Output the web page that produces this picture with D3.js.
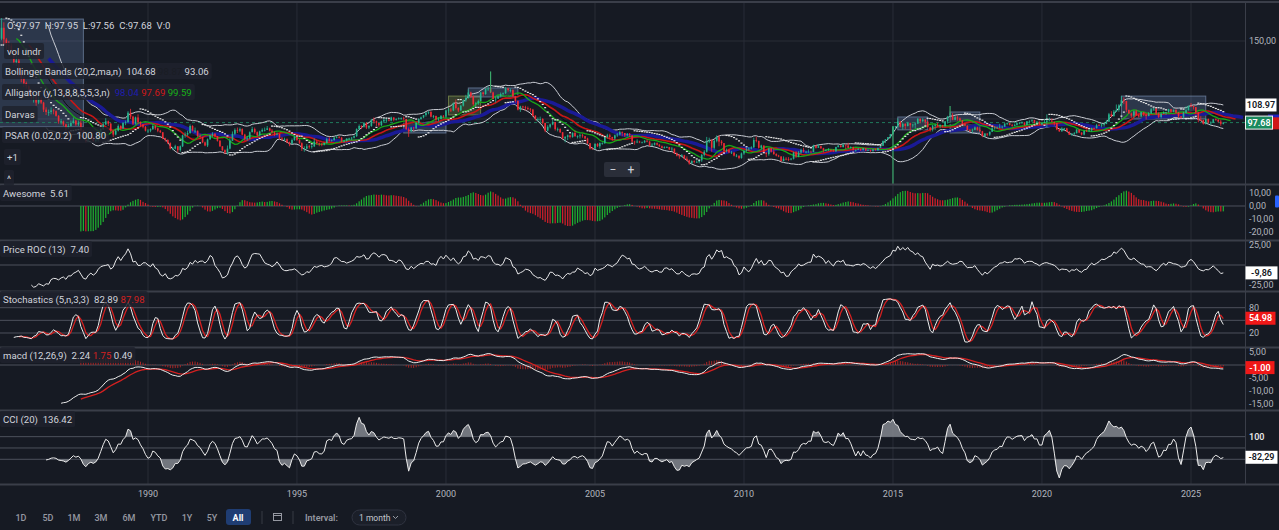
<!DOCTYPE html>
<html><head><meta charset="utf-8">
<script src="https://cdn.jsdelivr.net/npm/d3@7"></script>
<style>
body{margin:0;background:#161a23;overflow:hidden}
svg{display:block}
text{font-family:Roboto,"Noto Sans",sans-serif;white-space:pre}
</style>
</head><body>
<svg id="c" width="1279" height="530"></svg>
<script>
// ---------------- DATA (monthly US dollar index, Jan 1985 .. Feb 2026) ----------------
const firstMonth = [1985, 0];
const firstOpen = 148.5;
const closes = [
/*1985*/151.5,158.5,151.0,147.5,147.0,143.5,136.5,137.5,129.0,126.0,123.0,121.0,
/*1986*/117.5,113.5,114.5,110.5,113.0,110.5,106.0,104.5,104.5,105.5,105.0,102.0,
/*1987*/98.5,98.5,96.5,94.0,95.5,97.5,99.0,96.5,97.5,92.5,88.0,86.5,
/*1988*/89.0,88.5,86.0,86.5,89.0,93.5,96.5,98.5,97.0,92.5,90.0,92.5,
/*1989*/95.5,94.0,97.5,98.0,104.0,101.5,97.0,101.0,98.0,96.5,95.0,92.5,
/*1990*/92.5,93.5,95.5,94.0,92.5,91.5,87.5,86.5,84.5,81.0,81.0,82.5,
/*1991*/80.0,82.5,89.5,90.0,91.0,95.5,92.5,92.5,89.0,88.5,85.0,83.0,
/*1992*/87.0,89.5,90.5,89.0,86.0,82.5,80.0,78.5,81.0,86.0,90.5,93.0,
/*1993*/92.5,93.5,90.0,87.0,87.5,91.5,93.5,91.5,89.5,92.0,93.0,93.0,
/*1994*/94.0,92.5,91.5,90.0,90.5,87.5,87.0,87.0,85.0,84.0,86.5,88.5,
/*1995*/86.5,84.5,81.0,81.0,82.5,82.0,82.5,85.5,84.5,84.0,83.5,84.5,
/*1996*/87.0,86.0,86.5,88.0,88.5,88.0,85.5,86.0,87.5,87.5,88.0,89.0,
/*1997*/93.5,95.5,95.0,97.5,94.5,95.5,99.5,98.5,97.5,96.0,98.5,99.5,
/*1998*/99.5,99.0,101.0,99.5,100.0,100.5,100.5,100.0,93.5,92.0,94.5,94.0,
/*1999*/97.5,100.0,101.0,102.5,104.0,104.5,101.5,102.0,99.5,100.0,102.0,101.5,
/*2000*/105.5,106.0,105.5,110.0,107.0,105.5,108.5,112.0,113.5,117.0,114.5,109.5,
/*2001*/110.0,111.5,117.0,116.0,119.5,119.5,117.0,113.0,113.0,114.5,116.0,116.5,
/*2002*/119.5,118.5,118.5,114.5,111.5,106.0,108.0,107.5,107.0,106.5,106.0,102.0,
/*2003*/100.0,100.0,100.0,97.5,92.5,95.0,96.5,98.0,93.5,93.5,91.5,87.5,
/*2004*/88.5,89.5,88.5,91.0,89.0,89.0,89.5,89.0,87.5,84.5,81.0,80.9,
/*2005*/84.0,82.5,84.5,84.5,88.5,89.5,88.5,87.5,89.5,90.0,91.5,91.0,
/*2006*/89.5,90.5,89.5,85.5,85.0,85.5,85.0,85.0,86.0,85.5,83.0,83.5,
/*2007*/84.5,83.5,82.5,81.5,82.0,82.0,80.5,81.0,78.0,76.5,76.0,76.7,
/*2008*/74.5,73.5,71.5,73.0,72.5,72.5,73.5,77.0,79.0,85.5,86.5,81.5,
/*2009*/86.0,88.5,85.5,84.5,79.5,80.0,78.5,78.5,76.5,76.5,75.0,77.9,
/*2010*/79.5,80.5,81.0,81.8,86.5,86.0,81.5,83.0,78.5,77.5,81.0,79.0,
/*2011*/77.5,76.5,76.0,73.0,74.5,74.3,74.0,74.5,78.5,76.0,78.5,80.2,
/*2012*/79.0,79.0,79.0,78.8,83.0,81.5,82.5,81.2,79.9,80.0,80.2,79.8,
/*2013*/79.2,82.0,83.0,82.0,83.5,83.0,81.5,82.0,80.2,80.2,80.7,80.0,
/*2014*/81.2,79.7,80.1,79.5,80.4,79.8,81.5,82.8,86.0,87.0,88.4,90.3,
/*2015*/94.8,95.3,98.4,95.0,96.9,95.5,97.3,96.0,96.4,97.0,100.2,98.6,
/*2016*/99.6,98.2,94.6,93.1,95.9,96.1,95.5,96.0,95.4,98.5,101.5,102.2,
/*2017*/99.5,101.1,100.4,99.0,97.0,95.6,92.9,92.7,93.1,94.6,93.0,92.1,
/*2018*/89.1,90.6,90.0,91.8,94.0,94.5,94.5,95.1,95.1,97.1,97.3,96.2,
/*2019*/95.6,96.2,97.3,97.5,97.8,96.1,98.5,98.9,99.4,97.4,98.3,96.4,
/*2020*/97.4,98.1,99.0,99.0,98.3,97.4,93.3,92.1,93.9,94.0,91.9,89.9,
/*2021*/90.6,90.9,93.2,91.3,90.0,92.4,92.2,92.6,94.2,94.1,96.0,95.7,
/*2022*/96.5,96.7,98.3,103.0,101.8,104.7,105.8,108.7,112.1,111.5,105.9,103.5,
/*2023*/102.1,104.9,102.5,101.7,104.3,102.9,101.9,103.6,106.2,106.7,103.5,101.3,
/*2024*/103.3,104.2,104.5,106.2,104.6,105.9,104.1,101.7,100.8,104.0,105.7,108.5,
/*2025*/108.37,107.6,104.2,99.5,99.3,96.9,100.0,97.8,97.8,99.8,99.4,98.3,
/*2026*/96.9,97.68];
const highs = [
/*1985*/153.5,164.7,162.0,152.0,150.0,148.5,144.0,140.5,139.5,129.5,127.0,124.0,
/*1986*/122.0,118.5,117.5,115.5,114.5,114.0,111.0,107.5,106.0,107.5,106.5,105.5,
/*1987*/102.5,100.0,99.0,97.0,97.0,99.0,101.0,99.5,99.0,99.0,93.0,88.5,
/*1988*/90.5,90.0,88.5,87.5,89.5,94.0,97.5,100.5,99.0,97.5,92.5,93.5,
/*1989*/96.5,96.0,98.0,99.0,105.0,106.5,102.0,101.5,103.0,98.5,96.5,95.5,
/*1990*/93.5,94.0,96.5,96.0,94.5,93.0,91.5,88.0,87.0,85.0,82.0,83.5,
/*1991*/82.5,83.0,90.0,91.5,92.5,96.5,96.0,94.5,92.5,90.5,88.5,85.5,
/*1992*/87.5,90.0,91.5,91.0,89.0,86.5,82.5,80.5,83.0,88.0,92.0,94.0,
/*1993*/94.5,94.5,94.0,90.5,89.0,92.0,95.0,94.5,92.0,92.5,94.0,94.5,
/*1994*/95.5,94.5,93.5,92.0,91.5,90.5,88.5,88.0,87.5,85.5,87.5,89.0,
/*1995*/89.0,87.0,85.0,82.5,84.0,83.5,83.5,87.5,86.5,85.0,84.5,85.0,
/*1996*/88.0,88.5,87.0,88.5,89.5,89.0,88.5,86.5,87.5,88.0,88.5,89.5,
/*1997*/94.0,96.5,96.0,98.0,98.0,96.0,100.0,101.0,99.0,97.5,99.0,100.5,
/*1998*/100.5,100.5,101.5,101.0,100.5,101.0,101.0,101.5,100.0,94.5,95.0,95.0,
/*1999*/98.0,100.5,101.5,102.5,104.5,105.0,105.0,102.5,102.0,101.0,102.5,102.5,
/*2000*/106.0,107.0,107.0,110.5,112.5,107.5,109.0,112.5,115.5,119.0,117.5,115.0,
/*2001*/111.0,112.5,117.5,117.5,119.5,121.0,121.0,117.5,114.5,115.0,117.0,117.0,
/*2002*/120.5,120.0,119.5,119.0,114.5,112.0,108.5,108.5,108.5,108.0,107.0,106.5,
/*2003*/102.5,101.0,101.5,100.5,97.5,96.0,97.0,99.5,98.0,94.5,94.0,91.5,
/*2004*/89.0,90.0,90.0,91.5,92.5,89.5,90.5,90.5,89.0,88.0,84.5,82.0,
/*2005*/84.5,84.5,85.0,85.0,88.5,90.5,90.5,88.5,90.0,91.0,92.5,92.0,
/*2006*/91.0,91.0,91.0,89.5,86.0,87.0,86.0,85.5,86.5,87.0,86.0,84.5,
/*2007*/85.0,85.0,84.0,83.0,82.5,82.5,82.0,82.0,81.0,78.5,77.5,77.5,
/*2008*/77.0,76.0,74.0,73.5,73.5,73.5,73.5,77.5,80.0,88.5,88.0,87.0,
/*2009*/86.5,89.5,89.5,86.5,84.5,81.0,80.5,79.5,78.5,77.5,76.5,78.5,
/*2010*/80.0,81.5,82.0,82.5,88.0,88.7,86.0,83.5,83.0,78.5,81.5,81.5,
/*2011*/81.0,78.0,77.0,76.0,76.0,75.5,75.5,75.0,79.0,79.5,79.5,81.0,
/*2012*/81.5,79.5,80.5,79.8,83.5,83.0,84.0,82.9,81.5,80.5,81.3,80.5,
/*2013*/80.5,82.2,83.2,83.2,84.5,83.5,84.7,82.5,82.3,80.5,81.5,81.0,
/*2014*/81.5,81.3,80.6,80.4,80.8,81.0,81.5,82.9,86.1,86.8,88.4,90.3,
/*2015*/95.5,95.4,100.4,98.5,97.4,97.2,98.2,97.6,96.9,97.8,100.5,100.3,
/*2016*/100.5,99.8,98.6,95.0,96.0,96.7,97.6,96.6,96.2,98.7,102.0,103.6,
/*2017*/103.8,101.8,102.3,100.9,99.4,97.8,96.0,93.6,93.8,95.2,95.1,94.0,
/*2018*/92.4,91.0,90.9,91.9,95.0,95.5,95.2,96.9,95.7,97.2,97.7,97.7,
/*2019*/96.9,97.0,97.7,98.0,98.4,97.8,98.7,99.0,99.7,99.3,98.5,98.3,
/*2020*/98.0,99.9,103.0,100.9,100.4,97.9,97.4,93.9,94.7,94.3,94.3,92.0,
/*2021*/91.0,91.6,93.4,93.4,91.4,92.4,93.2,93.7,94.5,94.6,96.9,96.9,
/*2022*/97.4,97.7,99.4,103.9,105.0,105.8,109.3,109.5,114.8,113.9,111.6,105.8,
/*2023*/104.1,105.4,105.9,102.8,104.7,104.5,103.6,104.4,107.0,107.3,107.1,104.3,
/*2024*/103.8,104.9,104.7,106.5,106.4,106.1,106.1,104.4,101.9,104.6,108.1,108.5,
/*2025*/110.2,108.5,107.6,104.4,101.8,99.5,100.2,100.3,98.5,100.0,100.4,100.0,
/*2026*/99.5,98.0];
const lows = [
/*1985*/147.5,150.5,148.0,144.5,144.0,142.0,134.5,134.0,127.0,123.5,120.5,119.5,
/*1986*/116.0,112.5,110.5,108.5,109.5,109.5,104.5,102.5,102.0,103.0,103.0,101.5,
/*1987*/97.0,96.5,95.5,92.5,93.5,95.0,97.0,95.5,95.5,92.0,87.5,85.0,
/*1988*/85.5,87.5,85.5,85.0,85.5,88.5,93.0,96.0,95.5,91.5,88.5,89.5,
/*1989*/92.0,93.0,93.5,96.0,97.5,100.0,96.0,96.5,96.5,95.0,94.0,92.0,
/*1990*/91.0,91.5,93.0,93.0,91.5,91.0,87.0,85.5,84.0,80.5,80.0,80.5,
/*1991*/78.5,79.0,82.0,88.0,89.0,90.5,92.0,91.0,88.5,87.0,84.5,82.5,
/*1992*/82.0,86.5,88.5,88.0,85.5,82.0,79.5,77.5,77.0,80.5,86.0,89.5,
/*1993*/91.0,91.5,89.5,86.0,86.0,87.0,91.5,90.5,88.5,89.0,91.5,92.0,
/*1994*/93.0,92.0,90.5,89.0,89.5,87.0,86.0,86.0,84.5,82.5,84.0,86.0,
/*1995*/86.0,84.0,79.5,79.0,80.5,81.0,81.0,82.0,83.5,82.5,82.5,83.0,
/*1996*/84.5,85.5,85.5,86.0,87.5,87.5,85.0,85.0,85.5,86.5,86.5,87.5,
/*1997*/88.5,93.0,93.5,94.5,93.5,93.5,95.0,97.0,95.5,95.0,95.5,97.5,
/*1998*/98.0,98.5,98.5,98.5,99.0,99.5,99.5,99.0,93.0,88.5,91.5,92.5,
/*1999*/93.5,97.0,99.5,100.5,101.5,103.0,101.0,100.5,98.0,98.5,99.5,100.5,
/*2000*/100.5,104.0,104.5,105.0,106.0,104.5,105.0,108.0,111.0,113.0,113.5,108.5,
/*2001*/107.5,109.0,111.5,114.5,115.5,118.0,116.5,112.5,110.5,113.0,114.0,115.0,
/*2002*/116.0,117.5,117.0,114.0,110.5,105.5,104.5,106.0,105.5,105.5,104.5,101.5,
/*2003*/99.0,98.5,98.0,96.5,91.5,92.0,94.0,96.0,92.5,92.0,91.0,87.0,
/*2004*/85.0,86.5,87.5,88.0,88.5,87.5,87.5,88.0,87.0,84.0,80.5,80.4,
/*2005*/80.5,82.0,81.0,83.5,84.0,87.5,87.0,86.0,86.5,88.5,89.5,89.0,
/*2006*/88.5,89.0,88.5,85.0,83.5,84.5,84.5,84.5,84.5,85.0,82.5,82.5,
/*2007*/83.0,83.0,82.0,81.0,81.0,81.5,80.0,79.5,77.5,76.0,74.5,75.5,
/*2008*/74.0,73.0,70.7,71.5,71.5,72.0,71.5,72.5,76.0,78.5,84.5,79.0,
/*2009*/80.5,85.0,82.5,83.0,79.0,78.5,78.0,77.5,76.0,75.5,74.2,74.5,
/*2010*/77.0,79.0,79.5,80.5,81.5,85.0,81.0,80.5,78.5,75.5,76.5,78.5,
/*2011*/77.0,76.0,75.5,72.7,72.8,73.5,73.0,73.5,74.0,75.0,75.5,77.5,
/*2012*/78.5,78.0,78.5,78.5,78.7,81.0,81.5,80.9,78.6,79.3,79.8,79.0,
/*2013*/79.0,78.9,81.7,81.7,81.7,80.5,81.4,80.9,79.8,79.0,80.0,79.5,
/*2014*/79.8,79.5,79.4,78.9,78.9,79.8,79.7,81.4,82.6,84.5,86.9,87.6,
/*2015*/90.0,93.2,94.4,94.5,93.1,93.4,95.2,92.6,94.5,93.8,96.8,97.2,
/*2016*/97.8,95.6,94.6,91.9,92.0,93.0,95.0,94.1,94.5,95.2,97.0,100.9,
/*2017*/99.2,99.2,98.9,98.8,96.8,96.2,92.7,91.7,91.0,92.8,92.5,91.8,
/*2018*/88.3,88.3,88.9,89.2,91.7,93.2,93.7,94.0,93.8,94.8,96.0,95.8,
/*2019*/95.0,95.4,95.7,96.6,97.0,95.8,96.2,97.1,98.0,97.1,97.2,96.3,
/*2020*/96.0,97.5,94.7,98.8,97.9,95.8,92.8,91.7,91.8,92.5,91.7,89.7,
/*2021*/89.2,89.7,90.7,90.9,89.5,89.5,91.8,92.0,91.9,93.3,93.9,95.5,
/*2022*/94.6,95.1,97.1,98.2,101.3,101.6,104.7,104.6,107.7,109.5,104.4,103.4,
/*2023*/100.8,100.8,101.9,100.8,101.0,101.9,99.6,101.7,103.3,105.3,102.5,100.6,
/*2024*/100.3,103.4,102.6,104.0,104.1,104.3,103.6,100.5,100.2,100.8,103.4,105.4,
/*2025*/107.6,106.1,103.2,97.9,98.7,96.4,96.4,97.1,96.2,97.4,98.9,97.7,
/*2026*/95.6,96.5];
// feed glitches visible on the price pane only (not used by the indicators)
const glitchMonths = ["2001-07", "2015-01", "2016-12"];
const glitchHighs  = [130.5, 95.5, 108.4];
const glitchLows   = [117.0, 50.0, 102.5];
// Darvas boxes: start month, end month, top, bottom
const darvasStart  = ["1985-01", "1998-08", "2000-02", "2000-10", "2015-03", "2016-12", "2022-09"];
const darvasEnd    = ["1987-11", "2000-01", "2001-03", "2002-06", "2016-03", "2017-12", "2025-07"];
const darvasTop    = [164.1, 98.1, 114.7, 119.9, 101.3, 104.5, 114.7];
const darvasBottom = [94.9, 91.0, 102.6, 114.1, 93.0, 91.0, 100.0];
// last-value tags shown on the price scale
const tagValues = { bbUpper: 108.97, roc: -9.86, stoch: 54.98, macd: -1.00, cci: -82.29 };
const yearTicks = [1990, 1995, 2000, 2005, 2010, 2015, 2020, 2025];
const priceTicks = [150, 100];
const priceTickLabels = [150];
const aoTicks = [10, 0, -10, -20];
const rocTicks = [25, -25];
const stochTicks = [80, 20];
const macdTicks = [5, -5, -10, -15];
const toolbarRanges = ["1D","5D","1M","3M","6M","YTD","1Y","5Y","All"];

// ---------------- INDICATORS ----------------
const n = closes.length;
const dates = d3.range(n).map(i => new Date(firstMonth[0], firstMonth[1] + i, 1));
const opens = closes.map((c, i) => i === 0 ? firstOpen : closes[i - 1]);
const median = highs.map((h, i) => (h + lows[i]) / 2);
const typical = highs.map((h, i) => (h + lows[i] + closes[i]) / 3);

function sma(a, p) { return a.map((v, i) => { if (i < p - 1) return null; let s = 0; for (let j = i - p + 1; j <= i; j++) { if (a[j] == null) return null; s += a[j]; } return s / p; }); }
function smma(a, p) { const o = new Array(a.length).fill(null); let prev = null; for (let i = 0; i < a.length; i++) { if (i === p - 1) { prev = d3.mean(a.slice(0, p)); o[i] = prev; } else if (i >= p) { prev = (prev * (p - 1) + a[i]) / p; o[i] = prev; } } return o; }
function ema(a, p) { const o = new Array(a.length).fill(null); const k = 2 / (p + 1); let prev = null, start = a.findIndex(v => v != null); for (let i = start; i < a.length; i++) { if (i === start + p - 1) { prev = d3.mean(a.slice(start, start + p)); o[i] = prev; } else if (i >= start + p) { prev = a[i] * k + prev * (1 - k); o[i] = prev; } } return o; }

const bbMid = sma(closes, 20);
const bbDev = closes.map((c, i) => { if (i < 19) return null; const s = closes.slice(i - 19, i + 1), m = bbMid[i]; return Math.sqrt(d3.mean(s, v => (v - m) * (v - m))); });
const bbUp = bbMid.map((m, i) => m == null ? null : m + 2 * bbDev[i]);
const bbLo = bbMid.map((m, i) => m == null ? null : m - 2 * bbDev[i]);
const jaw = smma(median, 13), teeth = smma(median, 8), lips = smma(median, 5);

function psar(h, l, step, maxAf) {
  const out = new Array(n).fill(null);
  let up = closes[1] > closes[0], af = step, ep = up ? h[0] : l[0], sar = up ? l[0] : h[0];
  for (let i = 1; i < n; i++) {
    sar = sar + af * (ep - sar);
    if (up) {
      sar = Math.min(sar, l[i - 1], i > 1 ? l[i - 2] : l[i - 1]);
      if (l[i] < sar) { up = false; sar = ep; ep = l[i]; af = step; }
      else if (h[i] > ep) { ep = h[i]; af = Math.min(af + step, maxAf); }
    } else {
      sar = Math.max(sar, h[i - 1], i > 1 ? h[i - 2] : h[i - 1]);
      if (h[i] > sar) { up = true; sar = ep; ep = h[i]; af = step; }
      else if (l[i] < ep) { ep = l[i]; af = Math.min(af + step, maxAf); }
    }
    out[i] = sar;
  }
  return out;
}
const sar = psar(highs, lows, 0.02, 0.2);
const sma5m = sma(median, 5), sma34m = sma(median, 34);
const ao = median.map((_, i) => sma34m[i] == null ? null : sma5m[i] - sma34m[i]);
const roc = closes.map((c, i) => i < 13 ? null : (c / closes[i - 13] - 1) * 100);
const rawK = closes.map((c, i) => { if (i < 4) return null; const hh = d3.max(highs.slice(i - 4, i + 1)), ll = d3.min(lows.slice(i - 4, i + 1)); return (c - ll) / (hh - ll) * 100; });
const stK = sma(rawK, 3), stD = sma(stK, 3);
const e12 = ema(closes, 12), e26 = ema(closes, 26);
const macd = closes.map((_, i) => e26[i] == null ? null : e12[i] - e26[i]);
const sig = ema(macd, 9);
const hist = macd.map((m, i) => sig[i] == null ? null : m - sig[i]);
const tpSma = sma(typical, 20);
const cci = typical.map((t, i) => { if (i < 19) return null; const s = typical.slice(i - 19, i + 1), m = tpSma[i]; const md = d3.mean(s, v => Math.abs(v - m)); return (t - m) / (0.015 * md); });

// ---------------- DRAW ----------------
const svg = d3.select("#c");
const PR = 1245;
const x = d3.scaleTime().domain([new Date(1990, 0, 1), new Date(2025, 0, 1)]).range([148, 1191]);
const ym = d3.scaleLinear().domain([58.3, 176.3]).range([184, 0]);
const yAO = d3.scaleLinear().domain([-26.15, 16.15]).range([240, 185]);
const yROC = d3.scaleLinear().domain([-32.5, 30]).range([291, 241]);
const yST = d3.scaleLinear().domain([-13.2, 117.2]).range([347, 292]);
const yMD = d3.scaleLinear().domain([-17.3, 6.54]).range([410, 348]);
const yCC = d3.scaleLinear().domain([-318.6, 327]).range([484, 411]);
const monthDate = s => { const [a, b] = s.split("-").map(Number); return new Date(a, b - 1, 1); };
const shiftDate = (i, s) => new Date(firstMonth[0], firstMonth[1] + i + s, 1);

const defs = svg.append("defs");
function clip(id, y0, y1) { defs.append("clipPath").attr("id", id).append("rect").attr("x", 0).attr("y", y0).attr("width", PR).attr("height", y1 - y0); }
clip("cm", 3, 184); clip("ca", 185, 240); clip("cr", 241, 291); clip("cs", 292, 347); clip("cd", 348, 410); clip("cc", 411, 484);

svg.append("rect").attr("width", 1279).attr("height", 530).attr("fill", "#161a23");

// vertical year grid
const grid = svg.append("g");
yearTicks.forEach(yr => grid.append("line").attr("x1", x(new Date(yr, 0, 1))).attr("x2", x(new Date(yr, 0, 1))).attr("y1", 3).attr("y2", 484).attr("stroke", "#282c37").attr("stroke-width", 1));
priceTicks.forEach(v => grid.append("line").attr("x1", 0).attr("x2", PR).attr("y1", ym(v)).attr("y2", ym(v)).attr("stroke", "#282c37"));

function level(scale, v) { grid.append("line").attr("x1", 0).attr("x2", PR).attr("y1", scale(v)).attr("y2", scale(v)).attr("stroke", "#4d515c").attr("stroke-width", 1); }
level(yAO, 0); level(yROC, 0); level(yST, 80); level(yST, 50); level(yST, 20); level(yMD, 0);
level(yCC, 100); level(yCC, 0); level(yCC, -100);

// ---- main pane
const gm = svg.append("g").attr("clip-path", "url(#cm)");
darvasStart.forEach((s, k) => {
  const x0 = x(monthDate(s)), x1 = x(monthDate(darvasEnd[k]));
  const olive = k === 2;
  gm.append("rect").attr("x", x0).attr("y", ym(darvasTop[k])).attr("width", x1 - x0).attr("height", ym(darvasBottom[k]) - ym(darvasTop[k]))
    .attr("fill", olive ? "rgba(130,150,70,0.30)" : "rgba(110,140,195,0.26)")
    .attr("stroke", olive ? "rgba(150,170,90,0.6)" : "rgba(150,175,215,0.5)").attr("stroke-width", 1);
});
gm.append("line").attr("x1", 0).attr("x2", PR).attr("y1", ym(closes[n - 1])).attr("y2", ym(closes[n - 1]))
  .attr("stroke", "#1f7a5c").attr("stroke-dasharray", "3,3");

function lineOf(arr, sc, shift) { return d3.line().defined(d => d[1] != null).x(d => x(d[0])).y(d => sc(d[1]))(arr.map((v, i) => [shiftDate(i, shift || 0), v])); }
gm.append("path").attr("d", lineOf(bbUp, ym)).attr("fill", "none").attr("stroke", "#c9ccd3").attr("stroke-width", 1);
gm.append("path").attr("d", lineOf(bbLo, ym)).attr("fill", "none").attr("stroke", "#c9ccd3").attr("stroke-width", 1);
gm.append("path").attr("d", lineOf(bbMid, ym)).attr("fill", "none").attr("stroke", "#0b0d12").attr("stroke-width", 1);
gm.append("path").attr("d", lineOf(jaw, ym, 8)).attr("fill", "none").attr("stroke", "#1a1a96").attr("stroke-width", 3.5);
gm.append("path").attr("d", lineOf(teeth, ym, 5)).attr("fill", "none").attr("stroke", "#c81616").attr("stroke-width", 1.6);
gm.append("path").attr("d", lineOf(lips, ym, 3)).attr("fill", "none").attr("stroke", "#18a818").attr("stroke-width", 1.3);

const bw = 1.6;
const cg = gm.append("g");
closes.forEach((c, i) => {
  const o = opens[i], up = c >= o, col = up ? "#26b38f" : "#ef2b35";
  const cx = x(dates[i]);
  cg.append("line").attr("x1", cx).attr("x2", cx).attr("y1", ym(highs[i])).attr("y2", ym(lows[i])).attr("stroke", col).attr("stroke-width", 0.8);
  const y0 = ym(Math.max(o, c)), y1 = ym(Math.min(o, c));
  cg.append("rect").attr("x", cx - bw / 2).attr("y", y0).attr("width", bw).attr("height", Math.max(0.8, y1 - y0)).attr("fill", col);
});
glitchMonths.forEach((m, k) => {
  const cx = x(monthDate(m));
  cg.append("line").attr("x1", cx).attr("x2", cx).attr("y1", ym(glitchHighs[k])).attr("y2", ym(glitchLows[k])).attr("stroke", "#3aa86a").attr("stroke-width", 1.2);
});
sar.forEach((v, i) => { if (v == null) return; gm.append("rect").attr("x", x(dates[i]) - 1).attr("y", ym(v) - 0.5).attr("width", 2).attr("height", 1.2).attr("fill", "#e6e6e6"); });

// ---- Awesome
const ga = svg.append("g").attr("clip-path", "url(#ca)");
ao.forEach((v, i) => {
  if (v == null) return;
  const col = (i > 0 && ao[i - 1] != null && v < ao[i - 1]) ? "#d3202a" : "#1fb030";
  ga.append("rect").attr("x", x(dates[i]) - 0.6).attr("width", 1.2).attr("y", Math.min(yAO(0), yAO(v))).attr("height", Math.abs(yAO(v) - yAO(0))).attr("fill", col);
});
svg.append("g").attr("clip-path", "url(#cr)").append("path").attr("d", lineOf(roc, yROC)).attr("fill", "none").attr("stroke", "#e8e8ea").attr("stroke-width", 1);
const gs = svg.append("g").attr("clip-path", "url(#cs)");
gs.append("path").attr("d", lineOf(stD, yST)).attr("fill", "none").attr("stroke", "#d42020").attr("stroke-width", 1.3);
gs.append("path").attr("d", lineOf(stK, yST)).attr("fill", "none").attr("stroke", "#ececec").attr("stroke-width", 1);
const gd = svg.append("g").attr("clip-path", "url(#cd)");
hist.forEach((v, i) => { if (v == null) return; gd.append("rect").attr("x", x(dates[i]) - 0.5).attr("width", 1).attr("y", Math.min(yMD(0), yMD(v))).attr("height", Math.abs(yMD(v) - yMD(0))).attr("fill", "#a82626"); });
gd.append("path").attr("d", lineOf(sig, yMD)).attr("fill", "none").attr("stroke", "#d42020").attr("stroke-width", 1.3);
gd.append("path").attr("d", lineOf(macd, yMD)).attr("fill", "none").attr("stroke", "#ececec").attr("stroke-width", 1);
const gc = svg.append("g").attr("clip-path", "url(#cc)");
const cciPts = cci.map((v, i) => [dates[i], v]);
gc.append("path").attr("d", d3.area().defined(d => d[1] != null).x(d => x(d[0])).y0(yCC(100)).y1(d => yCC(Math.max(d[1], 100)))(cciPts)).attr("fill", "#8a8d95").attr("opacity", 0.8);
gc.append("path").attr("d", d3.area().defined(d => d[1] != null).x(d => x(d[0])).y0(yCC(-100)).y1(d => yCC(Math.min(d[1], -100)))(cciPts)).attr("fill", "#8a8d95").attr("opacity", 0.8);
gc.append("path").attr("d", lineOf(cci, yCC)).attr("fill", "none").attr("stroke", "#ececec").attr("stroke-width", 1);

// ---- pane separators and axis border
[2, 184.5, 240.5, 291.5, 347.5, 410.5, 484.5].forEach(yy => svg.append("line").attr("x1", 0).attr("x2", 1279).attr("y1", yy).attr("y2", yy).attr("stroke", "#3a3e49").attr("stroke-width", 2));
svg.append("line").attr("x1", PR + 0.5).attr("x2", PR + 0.5).attr("y1", 2).attr("y2", 485).attr("stroke", "#3a3e49").attr("stroke-width", 1);

// ---- right axis labels
const ax = svg.append("g").attr("font-size", 9).attr("fill", "#b2b5be");
const fmt = v => v.toFixed(2).replace(".", ",");
function axisLab(sc, ticks, f) { ticks.forEach(v => ax.append("text").attr("x", 1249).attr("y", sc(v)).attr("dominant-baseline", "central").text(f ? f(v) : fmt(v))); }
axisLab(ym, priceTickLabels); axisLab(yAO, aoTicks); axisLab(yROC, rocTicks); axisLab(yST, stochTicks, v => String(v)); axisLab(yMD, macdTicks);
ax.append("text").attr("x", 1249).attr("y", yCC(100)).attr("dominant-baseline", "central").attr("fill", "#e6e6e6").attr("font-weight", 600).text("100");

function tag(yy, text, bg, fg, w, border) {
  svg.append("rect").attr("x", 1245.5).attr("y", yy - 6.5).attr("width", w).attr("height", 13).attr("fill", bg).attr("stroke", border || "none").attr("stroke-width", 1);
  svg.append("text").attr("x", 1245.5 + w / 2).attr("y", yy).attr("text-anchor", "middle").attr("dominant-baseline", "central").attr("font-size", 9).attr("font-weight", 600).attr("fill", fg).text(text);
}
svg.append("rect").attr("x", 1268).attr("y", ym(99) - 6).attr("width", 11).attr("height", 12).attr("fill", "#2020c0");
svg.append("rect").attr("x", 1270).attr("y", ym(97.2) - 6).attr("width", 9).attr("height", 12).attr("fill", "#d01818");
tag(ym(tagValues.bbUpper), tagValues.bbUpper.toFixed(2), "#ffffff", "#131722", 31);
tag(ym(closes[n - 1]), closes[n - 1].toFixed(2), "#1a8a5e", "#ffffff", 27, "#f2f2f2");
svg.append("rect").attr("x", 1275).attr("y", yAO(8)).attr("width", 4).attr("height", 12).attr("fill", "#2962ff").attr("rx", 1);
tag(yROC(tagValues.roc), tagValues.roc.toFixed(2).replace(".", ","), "#ffffff", "#131722", 32);
tag(yST(tagValues.stoch), tagValues.stoch.toFixed(2), "#f01818", "#ffffff", 30);
tag(yMD(tagValues.macd), tagValues.macd.toFixed(2), "#f01818", "#ffffff", 29);
tag(yCC(tagValues.cci), tagValues.cci.toFixed(2).replace(".", ","), "#ffffff", "#131722", 32);

// ---- x axis year labels
yearTicks.forEach(yr => svg.append("text").attr("x", x(new Date(yr, 0, 1))).attr("y", 494).attr("text-anchor", "middle").attr("dominant-baseline", "central").attr("font-size", 9).attr("fill", "#b2b5be").text(yr));

// ---- legends
function legend(x0, yy, parts, withBox) {
  const g = svg.append("g");
  const r = g.append("rect").attr("fill", "rgba(30,34,45,0.85)").attr("rx", 2);
  const t = g.append("text").attr("x", x0 + 3).attr("y", yy).attr("dominant-baseline", "central").attr("font-size", 9.6);
  parts.forEach(p => t.append("tspan").attr("fill", p[1] || "#d1d4dc").text(p[0]));
  const w = t.node().getComputedTextLength();
  r.attr("x", x0).attr("y", yy - 8).attr("width", w + 6).attr("height", 16);
  if (withBox === false) r.remove();
}
legend(4, 25, [["O:97.97  H:97.95  L:97.56  C:97.68  V:0"]], false);
legend(4, 51, [["vol undr"]]);
legend(2, 71, [["Bollinger Bands (20,2,ma,n)  104.68 "], ["98.87 ", "#1a1d24"], ["93.06"]]);
legend(2, 92, [["Alligator (y,13,8,8,5,5,3,n)  "], ["98.04 ", "#1d1db0"], ["97.69 ", "#d01818"], ["99.59", "#18b018"]]);
legend(2, 114, [["Darvas"]]);
legend(2, 135, [["PSAR (0.02,0.2)  100.80"]]);
legend(4, 157, [["+1"]]);
legend(4, 178, [["^"]]);
legend(0, 193, [["Awesome  5.61"]]);
legend(0, 249, [["Price ROC (13)  7.40"]]);
legend(0, 299, [["Stochastics (5,n,3,3)  82.89 "], ["87.98", "#d42020"]]);
legend(0, 355, [["macd (12,26,9)  2.24 "], ["1.75 ", "#d42020"], ["0.49"]]);
legend(0, 419, [["CCI (20)  136.42"]]);

// zoom buttons
svg.append("rect").attr("x", 604).attr("y", 162).attr("width", 36).attr("height", 15).attr("rx", 2).attr("fill", "#2a2e39");
svg.append("text").attr("x", 613).attr("y", 170).attr("text-anchor", "middle").attr("dominant-baseline", "central").attr("font-size", 12).attr("fill", "#d1d4dc").text("−");
svg.append("text").attr("x", 631).attr("y", 170).attr("text-anchor", "middle").attr("dominant-baseline", "central").attr("font-size", 12).attr("fill", "#d1d4dc").text("+");

// ---- bottom toolbar
const tbx = [21, 48, 74, 101, 129, 159, 187, 212, 238];
toolbarRanges.forEach((s, k) => {
  if (s === "All") svg.append("rect").attr("x", 226).attr("y", 509).attr("width", 25).attr("height", 16).attr("rx", 3).attr("fill", "#1f3d73");
  svg.append("text").attr("x", tbx[k]).attr("y", 517.5).attr("text-anchor", "middle").attr("dominant-baseline", "central").attr("font-size", 9).attr("font-weight", s === "All" ? 700 : 500).attr("fill", s === "All" ? "#ffffff" : "#9598a1").text(s);
});
[262, 293].forEach(xx => svg.append("line").attr("x1", xx).attr("x2", xx).attr("y1", 511).attr("y2", 524).attr("stroke", "#363a45"));
svg.append("rect").attr("x", 273.5).attr("y", 513.5).attr("width", 8).attr("height", 7).attr("fill", "none").attr("stroke", "#9598a1");
svg.append("line").attr("x1", 273.5).attr("x2", 281.5).attr("y1", 515.5).attr("y2", 515.5).attr("stroke", "#9598a1");
svg.append("text").attr("x", 305).attr("y", 517.5).attr("dominant-baseline", "central").attr("font-size", 9).attr("font-weight", 600).attr("fill", "#9598a1").text("Interval:");
svg.append("rect").attr("x", 352).attr("y", 510).attr("width", 54).attr("height", 15).attr("rx", 7.5).attr("fill", "#1b1f29").attr("stroke", "#2f3340");
svg.append("text").attr("x", 359).attr("y", 517.5).attr("dominant-baseline", "central").attr("font-size", 8.5).attr("fill", "#c4c7cf").text("1 month");
svg.append("path").attr("d", "M393,516 l2.5,2.5 l2.5,-2.5").attr("fill", "none").attr("stroke", "#9598a1").attr("stroke-width", 1);
</script>
</body></html>
